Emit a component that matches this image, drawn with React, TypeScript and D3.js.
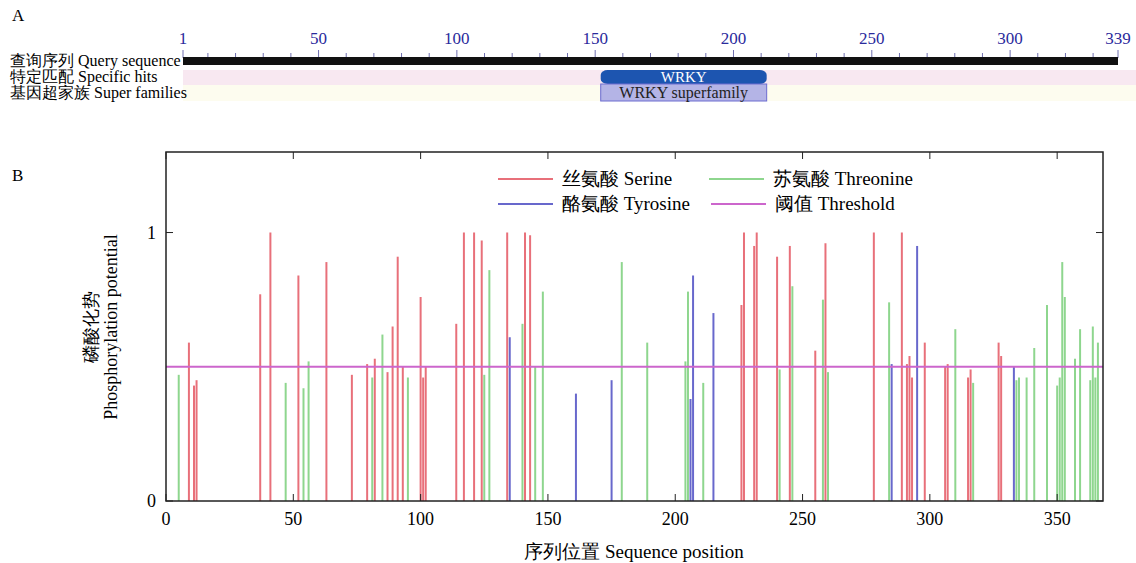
import React from "react";
import * as d3 from "d3";

// panel A domain info
const seqLength = 339;
const seqTickLabels = [1, 50, 100, 150, 200, 250, 300, 339];
const domainHits = [{ name: "WRKY", start: 152, end: 212 }];
const superFamilies = [{ name: "WRKY superfamily", start: 152, end: 212 }];
const rowLabels = ["查询序列 Query sequence", "特定匹配 Specific hits", "基因超家族 Super families"];

// panel B phosphorylation sites
const serinePos = [9, 11, 12, 37, 41, 52, 63, 73, 79, 82, 87, 89, 91, 93, 100, 101, 102, 114, 117, 121, 124, 134, 141, 143, 226, 227, 231, 232, 240, 245, 255, 259, 278, 289, 291, 292, 293, 298, 306, 307, 315, 316, 327, 328];
const serineVal = [0.59, 0.43, 0.45, 0.77, 1.0, 0.84, 0.89, 0.47, 0.51, 0.53, 0.48, 0.65, 0.91, 0.5, 0.76, 0.46, 0.5, 0.66, 1.0, 1.0, 0.97, 1.0, 1.0, 0.99, 0.73, 1.0, 0.95, 1.0, 0.91, 0.95, 0.56, 0.96, 1.0, 1.0, 0.51, 0.54, 0.46, 0.59, 0.5, 0.51, 0.46, 0.49, 0.59, 0.54];
const threoninePos = [5, 47, 54, 56, 81, 85, 95, 125, 127, 140, 145, 148, 179, 189, 204, 205, 211, 241, 246, 258, 260, 284, 310, 317, 334, 335, 338, 341, 346, 350, 351, 352, 353, 357, 359, 363, 364, 365, 366];
const threonineVal = [0.47, 0.44, 0.42, 0.52, 0.46, 0.62, 0.46, 0.47, 0.86, 0.66, 0.5, 0.78, 0.89, 0.59, 0.52, 0.78, 0.44, 0.49, 0.8, 0.75, 0.48, 0.74, 0.64, 0.44, 0.45, 0.46, 0.46, 0.57, 0.73, 0.43, 0.46, 0.89, 0.76, 0.53, 0.64, 0.45, 0.65, 0.46, 0.59];
const tyrosinePos = [135, 161, 175, 206, 207, 215, 285, 295, 333];
const tyrosineVal = [0.61, 0.4, 0.45, 0.38, 0.84, 0.7, 0.51, 0.95, 0.5];
const threshold = 0.5;
const xTicks = [0, 50, 100, 150, 200, 250, 300, 350];
const yTicks = [0, 1];

const colors = {
  serine: "#e8707a",
  threonine: "#8ed68e",
  tyrosine: "#6868cc",
  threshold: "#cc66cc",
};

const font = "'Liberation Serif', 'DejaVu Serif', serif";

const App = () => {
  const width = 1136,
    height = 563;

  const xA = d3.scaleLinear().domain([1, seqLength]).range([183, 1118]);
  const minorTicks = [1, ...d3.range(10, seqLength, 10), seqLength];

  const x = d3.scaleLinear().domain([0, 368]).range([166, 1103]);
  const y = d3.scaleLinear().domain([0, 1.3]).range([501, 152]);

  const series = [
    { key: "serine", pos: serinePos, val: serineVal },
    { key: "threonine", pos: threoninePos, val: threonineVal },
    { key: "tyrosine", pos: tyrosinePos, val: tyrosineVal },
  ];

  const legend = [
    { label: "丝氨酸 Serine", color: colors.serine, x: 498, y: 179 },
    { label: "苏氨酸 Threonine", color: colors.threonine, x: 709, y: 179 },
    { label: "酪氨酸 Tyrosine", color: colors.tyrosine, x: 498, y: 204 },
    { label: "阈值 Threshold", color: colors.threshold, x: 711, y: 204 },
  ];

  return (
    <div style={{ position: "absolute", left: 0, top: 0 }}>
      <svg width={width} height={height} style={{ display: "block", background: "#fff", fontFamily: font }}>
        {/* ---- panel A ---- */}
        <text x={12} y={21} fontSize={17}>A</text>
        <rect x={xA(1)} y={70} width={width - xA(1)} height={15} fill="#f8e8f1" />
        <rect x={xA(1)} y={85} width={width - xA(1)} height={16} fill="#fdfcef" />
        {rowLabels.map((t, i) => (
          <text key={t} x={10} y={66 + i * 16} fontSize={16}>{t}</text>
        ))}
        {minorTicks.map((t) => {
          const major = seqTickLabels.includes(t);
          return (
            <line key={t} x1={xA(t)} x2={xA(t)} y1={major ? 50 : 53} y2={58} stroke="#7070b0" strokeWidth={1} />
          );
        })}
        <rect x={xA(1)} y={57} width={xA(seqLength) - xA(1)} height={8} fill="#111" />
        {seqTickLabels.map((t) => (
          <text key={t} x={xA(t)} y={44} fontSize={17} fill="#2a2a9c" textAnchor="middle">{t}</text>
        ))}
        {domainHits.map((d) => (
          <g key={d.name}>
            <rect x={xA(d.start)} y={70} width={xA(d.end) - xA(d.start)} height={14} rx={7} ry={5} fill="#1d55b0" />
            <text x={(xA(d.start) + xA(d.end)) / 2} y={82} fontSize={15} fill="#fff" textAnchor="middle">{d.name}</text>
          </g>
        ))}
        {superFamilies.map((d) => (
          <g key={d.name}>
            <rect x={xA(d.start)} y={84} width={xA(d.end) - xA(d.start)} height={17} fill="#b4b4e6" stroke="#6c6cd0" strokeWidth={1} />
            <text x={(xA(d.start) + xA(d.end)) / 2} y={98} fontSize={16} fill="#222" textAnchor="middle">{d.name}</text>
          </g>
        ))}

        {/* ---- panel B ---- */}
        <text x={12} y={181} fontSize={17}>B</text>
        {series.map((s) =>
          s.pos.map((p, i) => (
            <line
              key={s.key + p}
              x1={x(p)}
              x2={x(p)}
              y1={y(0)}
              y2={y(s.val[i])}
              stroke={colors[s.key as keyof typeof colors]}
              strokeWidth={2}
            />
          ))
        )}
        <line x1={x(0)} x2={x(368)} y1={y(threshold)} y2={y(threshold)} stroke={colors.threshold} strokeWidth={2} />
        <rect x={x(0)} y={y(1.3)} width={x(368) - x(0)} height={y(0) - y(1.3)} fill="none" stroke="#222" strokeWidth={1.5} />
        {xTicks.map((t) => (
          <g key={t}>
            <line x1={x(t)} x2={x(t)} y1={y(0)} y2={y(0) - 7} stroke="#222" />
            <line x1={x(t)} x2={x(t)} y1={y(1.3)} y2={y(1.3) + 7} stroke="#222" />
            <text x={x(t)} y={y(0) + 24} fontSize={18} textAnchor="middle">{t}</text>
          </g>
        ))}
        {yTicks.map((t) => (
          <g key={t}>
            <line x1={x(0)} x2={x(0) + 7} y1={y(t)} y2={y(t)} stroke="#222" />
            <line x1={x(368)} x2={x(368) - 7} y1={y(t)} y2={y(t)} stroke="#222" />
            <text x={x(0) - 10} y={y(t) + 6} fontSize={18} textAnchor="end">{t}</text>
          </g>
        ))}
        <text x={634} y={558} fontSize={19} textAnchor="middle">序列位置 Sequence position</text>
        <g transform="translate(97, 327) rotate(-90)">
          <text x={0} y={0} fontSize={18} textAnchor="middle">磷酸化势</text>
          <text x={0} y={20} fontSize={18} textAnchor="middle">Phosphorylation potential</text>
        </g>
        {legend.map((l) => (
          <g key={l.label}>
            <line x1={l.x} x2={l.x + 55} y1={l.y} y2={l.y} stroke={l.color} strokeWidth={2} />
            <text x={l.x + 64} y={l.y + 6} fontSize={19}>{l.label}</text>
          </g>
        ))}
      </svg>
    </div>
  );
};

export default App;
